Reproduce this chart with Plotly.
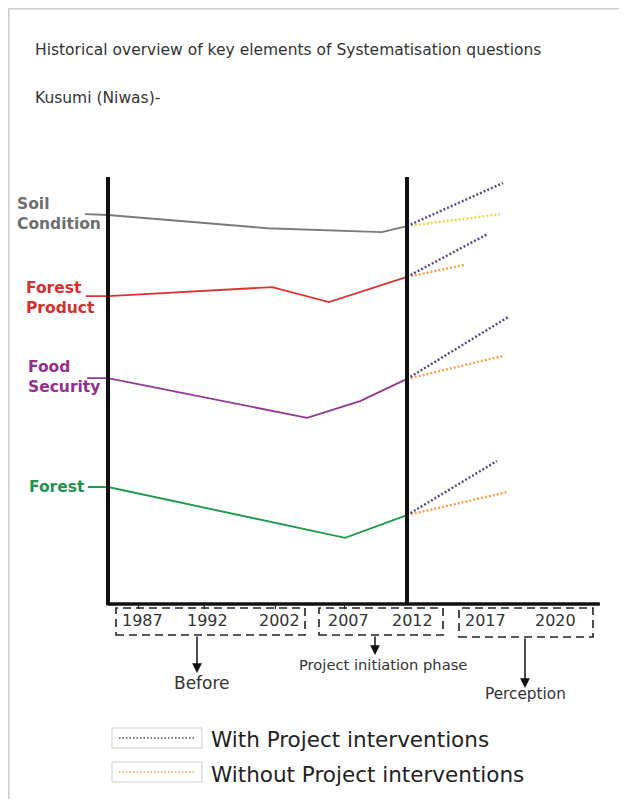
import plotly.graph_objects as go

# ---------------- data (timeline units: 0 = first axis, 100 = 2012 divider; level units 0..100) ----
series_names = ["Soil Condition", "Forest Product", "Food Security", "Forest"]

soil_x = [-7.7, 0, 53.2, 91.6, 100]
soil_y = [91.3, 91.1, 88.0, 87.1, 88.5]

forest_product_x = [-7.4, 0, 54.9, 73.9, 100]
forest_product_y = [72.1, 72.1, 74.2, 70.7, 76.6]

food_security_x = [-7.0, 0, 66.6, 84.3, 100]
food_security_y = [52.9, 52.9, 43.6, 47.5, 52.7]

forest_x = [-6.7, 0, 79.3, 100]
forest_y = [27.4, 27.4, 15.5, 20.8]

with_end_x = [132.1, 127.1, 133.8, 130.1]
with_end_y = [98.6, 86.7, 67.2, 33.5]
without_end_x = [131.1, 119.1, 132.1, 133.4]
without_end_y = [91.3, 79.4, 58.1, 26.2]

year_labels = ["1987", "1992", "2002", "2007", "2012", "2017", "2020"]
year_pos = [11.4, 33.4, 57.2, 80.3, 102.0, 126.1, 149.8]

phase_labels = ["Before", "Project initiation phase", "Perception"]
legend_labels = ["With Project interventions", "Without Project interventions"]

# ---------------- styling ----------------
W, H = 627, 807          # browser window
OFF = 8                  # default page body margin
FW, FH = W - 2 * OFF, H - 2 * OFF   # figure size
FONT = "DejaVu Sans"
line_colors = ["#7a7a7a", "#dd3333", "#8e3a8e", "#1f9a4f"]
label_colors = ["#6e6e6e", "#d62f2f", "#93308f", "#1f9450"]
with_color = "#54498a"
without_colors = ["#e9d84c", "#f2a24a", "#f2a24a", "#f2a24a"]

X0, SX = 108, 2.99   # page pixel of x=0, pixels per unit
Y0, SY = 604, 4.27   # page pixel of y=0, pixels per unit
x_range = [(OFF - X0) / SX, (OFF + FW - X0) / SX]
y_range = [(Y0 - (OFF + FH)) / SY, (Y0 - OFF) / SY]


def px(x):
    return (x - OFF) / FW


def py(y):
    return 1 - (y - OFF) / FH


fig = go.Figure()

solid = [(soil_x, soil_y), (forest_product_x, forest_product_y),
         (food_security_x, food_security_y), (forest_x, forest_y)]

for i, (xs, ys) in enumerate(solid):
    fig.add_trace(go.Scatter(x=xs, y=ys, mode="lines", name=series_names[i],
                             line=dict(color=line_colors[i], width=1.9),
                             showlegend=False, hoverinfo="skip"))

for i, (xs, ys) in enumerate(solid):
    fig.add_trace(go.Scatter(x=[xs[-1], without_end_x[i]], y=[ys[-1], without_end_y[i]],
                             mode="lines", line=dict(color=without_colors[i], width=2.4, dash="2px,2px"),
                             showlegend=False, hoverinfo="skip"))
    fig.add_trace(go.Scatter(x=[xs[-1], with_end_x[i]], y=[ys[-1], with_end_y[i]],
                             mode="lines", line=dict(color=with_color, width=2.4, dash="2px,2px"),
                             showlegend=False, hoverinfo="skip"))

shapes = []
# axes / divider
shapes.append(dict(type="line", xref="x", yref="y", x0=0, x1=0, y0=-0.3, y1=100,
                   line=dict(color="#111111", width=4)))
shapes.append(dict(type="line", xref="x", yref="y", x0=100, x1=100, y0=0, y1=100,
                   line=dict(color="#111111", width=4)))
shapes.append(dict(type="line", xref="x", yref="y", x0=0, x1=164.5, y0=0, y1=0,
                   line=dict(color="#111111", width=3.5)))
# small ticks
for p in year_pos[:4]:
    shapes.append(dict(type="line", xref="x", yref="y", x0=p - 1.2, x1=p - 1.2, y0=0, y1=-1.2,
                       line=dict(color="#222222", width=1.2)))
# dashed phase boxes
for (l, r, t, b) in [(116, 305, 608, 635), (319, 443, 608, 635), (459, 593, 608, 637)]:
    shapes.append(dict(type="rect", xref="paper", yref="paper", x0=px(l), x1=px(r), y0=py(b), y1=py(t),
                       line=dict(color="#222222", width=1.6, dash="8px,5px")))
# page frame
shapes.append(dict(type="line", xref="paper", yref="paper", x0=px(8.8), x1=px(8.8), y0=py(8.5), y1=0,
                   line=dict(color="#cccccc", width=1.5)))
shapes.append(dict(type="line", xref="paper", yref="paper", x0=px(8.5), x1=1, y0=py(8.8), y1=py(8.8),
                   line=dict(color="#cccccc", width=1.5)))
# legend boxes
for k, (t, b) in enumerate([(728, 748), (762, 782)]):
    shapes.append(dict(type="rect", xref="paper", yref="paper", x0=px(112), x1=px(202), y0=py(b), y1=py(t),
                       line=dict(color="#cfcfcf", width=1)))
    shapes.append(dict(type="line", xref="paper", yref="paper", x0=px(119), x1=px(196),
                       y0=py((t + b) / 2), y1=py((t + b) / 2),
                       line=dict(color=[with_color, "#f2a24a"][k], width=1.6, dash="1.5px,2px")))

ann = []
ann.append(dict(text="Historical overview of key elements of Systematisation questions",
                xref="paper", yref="paper", x=px(33), y=py(50), xanchor="left", yanchor="middle",
                showarrow=False, font=dict(family=FONT, size=15.5, color="#333333")))
ann.append(dict(text="Kusumi (Niwas)-", xref="paper", yref="paper", x=px(33), y=py(98),
                xanchor="left", yanchor="middle", showarrow=False,
                font=dict(family=FONT, size=15.5, color="#333333")))

# series labels
label_text = ["Soil<br>Condition", "Forest<br>Product", "Food<br>Security", "Forest"]
label_xy = [(15, 214), (24, 298), (26, 377), (87, 487)]
for i in range(4):
    lx, ly = label_xy[i]
    ann.append(dict(text="<b>%s</b>" % label_text[i], xref="paper", yref="paper", x=px(lx), y=py(ly),
                    xanchor="right" if i == 3 else "left", yanchor="middle", align="left",
                    showarrow=False, font=dict(family=FONT, size=15.5, color=label_colors[i])))

# year labels
for lab, p in zip(year_labels, year_pos):
    ann.append(dict(text=lab, xref="x", yref="y", x=p, y=-3.8, xanchor="center", yanchor="middle",
                    showarrow=False, font=dict(family=FONT, size=16, color="#333333")))

# arrows
for (ax_x, top, tip) in [(197, 635, 673), (375, 635, 655), (525, 637, 688)]:
    ann.append(dict(text="", xref="paper", yref="paper", x=px(ax_x), y=py(tip), ax=0, ay=-(tip - top),
                    showarrow=True, arrowhead=2, arrowsize=1.3, arrowwidth=1.5, arrowcolor="#111111",
                    standoff=0, startstandoff=0))

phase_xy = [(202, 683, 17), (383, 664, 14.7), (525, 694, 15.3)]
for lab, (x, y, s) in zip(phase_labels, phase_xy):
    ann.append(dict(text=lab, xref="paper", yref="paper", x=px(x), y=py(y), xanchor="center",
                    yanchor="middle", showarrow=False, font=dict(family=FONT, size=s, color="#333333")))

for lab, y in zip(legend_labels, [739, 774]):
    ann.append(dict(text=lab, xref="paper", yref="paper", x=px(209), y=py(y), xanchor="left",
                    yanchor="middle", showarrow=False, font=dict(family=FONT, size=21.5, color="#222222")))

fig.update_layout(
    width=FW, height=FH, autosize=False,
    margin=dict(l=0, r=0, t=0, b=0, pad=0),
    paper_bgcolor="white", plot_bgcolor="white",
    xaxis=dict(range=x_range, visible=False, fixedrange=True),
    yaxis=dict(range=y_range, visible=False, fixedrange=True),
    shapes=shapes, annotations=ann, showlegend=False,
)

fig.write_html("out.html", config={"displayModeBar": False})
